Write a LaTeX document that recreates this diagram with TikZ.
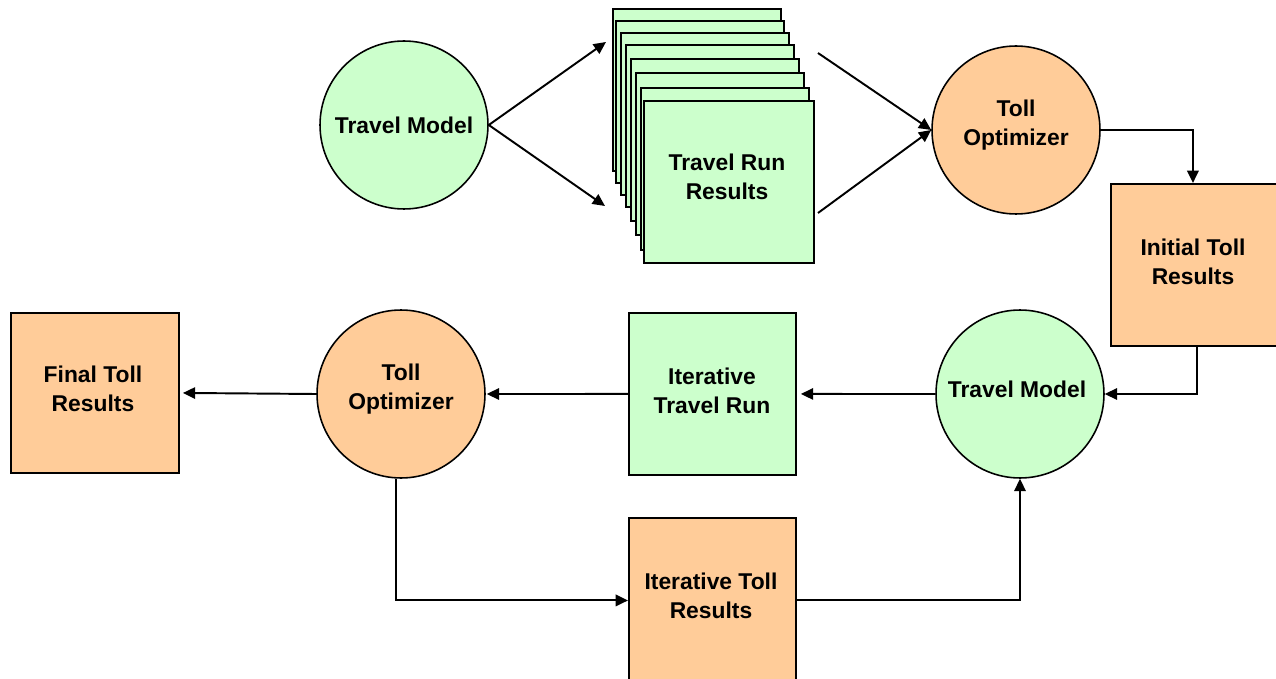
\documentclass[tikz,border=0pt]{standalone}
\usepackage{fontspec}
\setmainfont{Liberation Sans}
\usetikzlibrary{arrows.meta}
\definecolor{modelgreen}{HTML}{CCFFCC}
\definecolor{tollorange}{HTML}{FFCC99}
\tikzset{
  lbl/.style={font=\bfseries\fontsize{13}{16.2}\selectfont, align=center, text=black},
  proc/.style={lbl, circle, draw=black, line width=0.9pt, minimum size=3.36cm, inner sep=0pt},
  greenproc/.style={proc, fill=modelgreen},
  orangeproc/.style={proc, fill=tollorange},
  result/.style={lbl, rectangle, draw=black, line width=1.1pt, inner sep=0pt},
  page/.style={result, fill=modelgreen, anchor=north west, minimum width=3.36cm, minimum height=3.24cm},
  flow/.style={draw=black, line width=1.1pt, -{Triangle[length=7pt,width=6.5pt]}},
}
\begin{document}
\begin{tikzpicture}[x=0.02cm, y=-0.02cm]
\useasboundingbox (0,0) rectangle (1276,679);

% upper row: first model run and the stack of its results
\node[greenproc] (tm1) at (404,125) {Travel Model};

\node[page] (p1) at (612,8) {};
\node[page] (p2) at (615,20) {};
\node[page] (p3) at (620,32) {};
\node[page] (p4) at (625,44) {};
\node[page] (p5) at (630,58) {};
\node[page] (p6) at (635,72) {};
\node[page] (p7) at (640,87) {};
\node[page, minimum width=3.4cm] (p8) at (643,100) {};
\node[lbl] (p8t) at (727,177) {Travel Run\\Results};

\node[orangeproc] (to1) at (1016,130) {};
\node[lbl] (to1t) at (1016,125) {Toll\\Optimizer};

\node[result, fill=tollorange, anchor=north west, minimum width=3.36cm, minimum height=3.24cm]
  (init) at (1110,183) {};
\node[lbl] (initt) at (1193,262) {Initial Toll\\Results};

% lower row: iteration loop
\node[greenproc] (tm2) at (1020,394) {};
\node[lbl] (tm2t) at (1017,389) {Travel Model};
\node[result, fill=modelgreen, anchor=north west, minimum width=3.34cm, minimum height=3.24cm]
  (itrun) at (628,312) {};
\node[lbl] (itrunt) at (712,391) {Iterative\\Travel Run};
\node[orangeproc] (to2) at (401,394) {};
\node[lbl] (to2t) at (401,389) {Toll\\Optimizer};
\node[result, fill=tollorange, anchor=north west, minimum width=3.36cm, minimum height=3.2cm]
  (final) at (10,312) {};
\node[lbl] (finalt) at (93,389) {Final Toll\\Results};
\node[result, fill=tollorange, anchor=north west, minimum width=3.34cm, minimum height=3.3cm]
  (itoll) at (628,517) {};
\node[lbl] (itollt) at (711,596) {Iterative Toll\\Results};

% free ends of the fan-out / fan-in arrows
\coordinate (fanA) at (606,42);
\coordinate (fanB) at (605,206);
\coordinate (inA) at (818,53);
\coordinate (inB) at (818,213);

\draw[flow] (tm1.east) -- (fanA);
\draw[flow] (tm1.east) -- (fanB);
\draw[flow] (inA) -- (to1.west);
\draw[flow] (inB) -- (to1.west);

\draw[flow] (to1.east) -| ([xshift=-2*0.02cm]init.north);
\draw[flow] ([xshift=2*0.02cm]init.south) |- (tm2.east);
\draw[flow] (tm2.west) -- ([xshift=4*0.02cm]itrun.east);
\draw[flow] (itrun.west) -- ([xshift=1*0.02cm]to2.east);
\draw[flow] (to2.west) -- ([xshift=3*0.02cm]final.east);
\draw[flow] ([xshift=-5*0.02cm]to2.south) |- (itoll.west);
\draw[flow] (itoll.east) -| (tm2.south);
\end{tikzpicture}
\end{document}
